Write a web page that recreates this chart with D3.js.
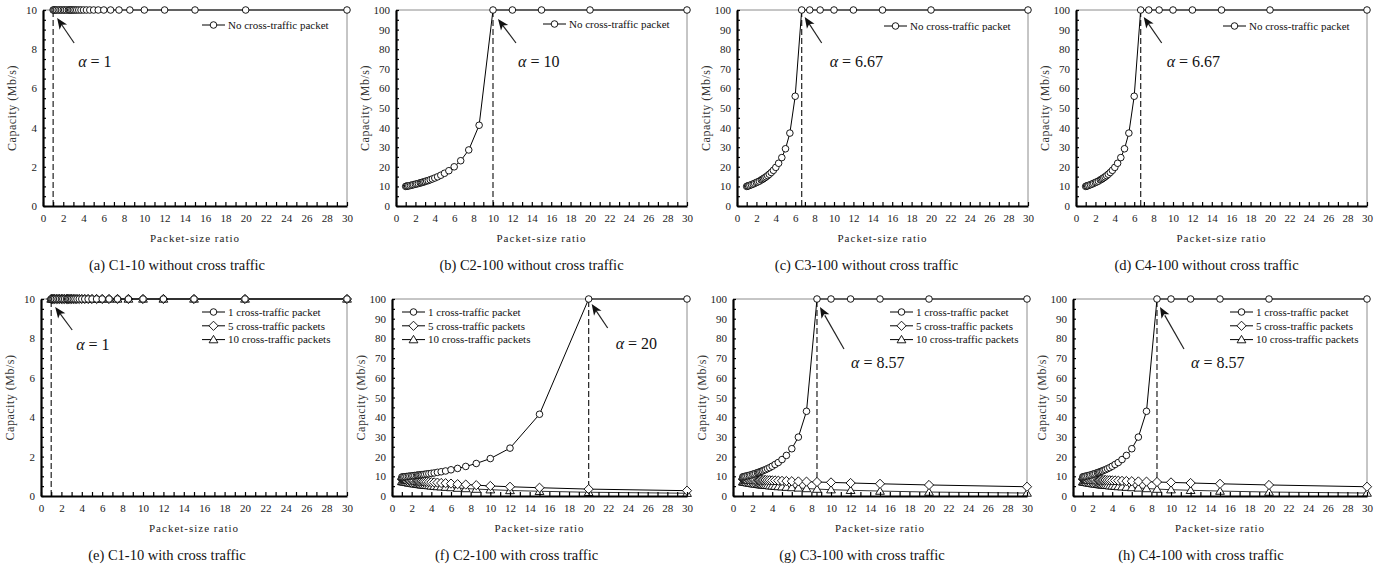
<!DOCTYPE html>
<html>
<head>
<meta charset="utf-8">
<script src="https://cdn.jsdelivr.net/npm/d3@7"></script>
<style>
  body { margin: 0; background: #fff; }
  svg { display: block; }
  text { font-family: "Liberation Serif", "Times New Roman", serif; }
</style>
</head>
<body>
<svg id="chart" width="1396" height="568"></svg>
<script>
// packet-size ratio (x) shared by every series
var ratio = [1, 1.09, 1.2, 1.33, 1.5, 1.67, 1.82, 2, 2.14, 2.31, 2.5, 2.61, 2.73, 2.86, 3, 3.16, 3.33, 3.53, 3.75,
             4, 4.29, 4.62, 5, 5.45, 6, 6.67, 7.5, 8.57, 10, 12, 15, 20, 30];

// capacity estimates (Mb/s)
var c1Capacity = [10, 10, 10, 10, 10, 10, 10, 10, 10, 10, 10, 10, 10, 10, 10, 10, 10, 10, 10,
                  10, 10, 10, 10, 10, 10, 10, 10, 10, 10, 10, 10, 10, 10];
var c2NoCross = [10.0, 10.1, 10.2, 10.3, 10.5, 10.7, 10.9, 11.1, 11.3, 11.5, 11.8, 11.9, 12.1, 12.3, 12.5, 12.8, 13.0, 13.4, 13.8,
                 14.3, 14.9, 15.7, 16.7, 18.0, 20.0, 23.1, 28.6, 41.2, 100, 100, 100, 100, 100];
var c34NoCross = [10.0, 10.2, 10.3, 10.6, 10.9, 11.2, 11.6, 12.0, 12.3, 12.7, 13.3, 13.6, 14.0, 14.4, 14.9, 15.5, 16.2, 17.1, 18.2,
                  19.7, 21.8, 24.7, 29.2, 37.2, 56.0, 100, 100, 100, 100, 100, 100, 100, 100];
var c2Cross1 = [9.6, 9.7, 9.7, 9.8, 9.9, 10.0, 10.1, 10.2, 10.3, 10.4, 10.5, 10.6, 10.6, 10.7, 10.8, 10.9, 11.0, 11.2, 11.3,
                11.5, 11.7, 12.0, 12.3, 12.7, 13.3, 14.0, 15.0, 16.5, 19.0, 24.3, 41.5, 100, 100];
var c2Cross5 = [8.6, 8.6, 8.5, 8.4, 8.3, 8.2, 8.1, 8.0, 8.0, 7.9, 7.8, 7.7, 7.6, 7.6, 7.5, 7.4, 7.3, 7.2, 7.1,
                7.0, 6.9, 6.8, 6.6, 6.5, 6.3, 6.0, 5.8, 5.5, 5.1, 4.7, 4.2, 3.5, 2.7];
var c2Cross10 = [7.4, 7.3, 7.2, 7.1, 6.9, 6.7, 6.6, 6.5, 6.3, 6.2, 6.1, 6.0, 5.9, 5.8, 5.7, 5.6, 5.5, 5.4, 5.3,
                 5.1, 5.0, 4.8, 4.7, 4.5, 4.3, 4.0, 3.8, 3.5, 3.2, 2.8, 2.4, 1.9, 1.4];
var c34Cross1 = [9.7, 9.8, 9.9, 10.1, 10.3, 10.5, 10.7, 11.0, 11.2, 11.5, 11.8, 12.0, 12.2, 12.5, 12.7, 13.1, 13.4, 13.9, 14.4,
                 15.1, 16.0, 17.0, 18.5, 20.6, 24.0, 29.9, 43.0, 100, 100, 100, 100, 100, 100];
var c34Cross5 = [8.6, 8.6, 8.6, 8.5, 8.5, 8.4, 8.4, 8.4, 8.3, 8.3, 8.3, 8.2, 8.2, 8.2, 8.1, 8.1, 8.1, 8.0, 8.0,
                 7.9, 7.9, 7.8, 7.7, 7.6, 7.5, 7.4, 7.3, 7.1, 6.9, 6.6, 6.2, 5.6, 4.7];
var c34Cross10 = [7.2, 7.1, 7.0, 6.9, 6.7, 6.6, 6.5, 6.3, 6.2, 6.1, 6.0, 5.9, 5.8, 5.7, 5.7, 5.6, 5.5, 5.4, 5.2,
                  5.1, 5.0, 4.8, 4.7, 4.5, 4.3, 4.1, 3.8, 3.5, 3.2, 2.9, 2.5, 2.0, 1.5];

// tick labels
var xTickLabels = [0, 2, 4, 6, 8, 10, 12, 14, 16, 18, 20, 22, 24, 26, 28, 30];
var yTickLabels10 = [0, 2, 4, 6, 8, 10];
var yTickLabels100 = [0, 10, 20, 30, 40, 50, 60, 70, 80, 90, 100];

var alphas = [1, 10, 6.67, 6.67, 1, 20, 8.57, 8.57];
var captions = ["(a) C1-10 without cross traffic", "(b) C2-100 without cross traffic",
                "(c) C3-100 without cross traffic", "(d) C4-100 without cross traffic",
                "(e) C1-10 with cross traffic", "(f) C2-100 with cross traffic",
                "(g) C3-100 with cross traffic", "(h) C4-100 with cross traffic"];
var noCrossName = ["No cross-traffic packet"];
var crossNames = ["1 cross-traffic packet", "5 cross-traffic packets", "10 cross-traffic packets"];

var svg = d3.select("#chart");

var shapes = {
  circle: d3.symbol(d3.symbolCircle, Math.PI * 3.3 * 3.3)(),
  diamond: "M0,-4.6L4.6,0L0,4.6L-4.6,0Z",
  triangle: "M0,-4.2L4.4,3.2L-4.4,3.2Z"
};

// layout for each panel
var panels = [
  {left: 43,   right: 347,  top: 10,  bottom: 206, ymax: 10,  series: [c1Capacity], names: noCrossName,
   leg: ["r", -119, 15], capDx: -18, tip: [4, 8], tail: [21, 33], lab: [25, 57]},
  {left: 396,  right: 687,  top: 10,  bottom: 206, ymax: 100, series: [c2NoCross], names: noCrossName,
   leg: ["r", -118, 14], capDx: -10, tip: [5, 9], tail: [23, 33], lab: [25, 57]},
  {left: 737,  right: 1028, top: 10,  bottom: 206, ymax: 100, series: [c34NoCross], names: noCrossName,
   leg: ["r", -118, 16], capDx: -16, tip: [3, 7], tail: [20, 33], lab: [28, 57]},
  {left: 1076, right: 1367, top: 10,  bottom: 206, ymax: 100, series: [c34NoCross], names: noCrossName,
   leg: ["r", -118, 16], capDx: -15, tip: [3, 7], tail: [21, 33], lab: [26, 57]},
  {left: 41,   right: 347,  top: 299, bottom: 496, ymax: 10,  series: [c1Capacity, c1Capacity, c1Capacity], names: crossNames,
   leg: ["r", -119, 13], capDx: -27, tip: [4, 8], tail: [21, 31], lab: [25, 51]},
  {left: 392,  right: 687,  top: 299, bottom: 496, ymax: 100, series: [c2Cross1, c2Cross5, c2Cross10], names: crossNames,
   leg: ["l", 36, 13], capDx: -23, tip: [3, 5], tail: [19, 29], lab: [27, 50]},
  {left: 733,  right: 1027, top: 299, bottom: 496, ymax: 100, series: [c34Cross1, c34Cross5, c34Cross10], names: crossNames,
   leg: ["r", -111, 13], capDx: -18, tip: [3, 8], tail: [27, 50], lab: [34, 69]},
  {left: 1073, right: 1367, top: 299, bottom: 496, ymax: 100, series: [c34Cross1, c34Cross5, c34Cross10], names: crossNames,
   leg: ["r", -111, 13], capDx: -19, tip: [3, 8], tail: [27, 50], lab: [34, 69]}
];
var shapeOrder = ["circle", "diamond", "triangle"];

function arrowHead(tip, tail, len, half) {
  var dx = tip[0] - tail[0], dy = tip[1] - tail[1], L = Math.hypot(dx, dy);
  var ux = dx / L, uy = dy / L;
  var bx = tip[0] - ux * len, by = tip[1] - uy * len;
  return "M" + tip[0] + "," + tip[1] +
         "L" + (bx - uy * half) + "," + (by + ux * half) +
         "L" + (tip[0] - ux * len * 0.75) + "," + (tip[1] - uy * len * 0.75) +
         "L" + (bx + uy * half) + "," + (by - ux * half) + "Z";
}

panels.forEach(function (p, pi) {
  var g = svg.append("g");
  var x = d3.scaleLinear().domain([0, 30]).range([p.left, p.right]);
  var y = d3.scaleLinear().domain([0, p.ymax]).range([p.bottom, p.top]);

  // top and right frame
  g.append("path")
    .attr("d", "M" + p.left + "," + p.top + "H" + p.right + "V" + p.bottom)
    .attr("fill", "none").attr("stroke", "#8c8c8c").attr("stroke-width", 1);

  // dashed alpha line
  var a = alphas[pi];
  g.append("line")
    .attr("x1", x(a)).attr("x2", x(a)).attr("y1", y(0)).attr("y2", y(p.ymax))
    .attr("stroke", "#222").attr("stroke-width", 1.2).attr("stroke-dasharray", "6,3");

  var line = d3.line().x(function (d) { return x(d[0]); }).y(function (d) { return y(d[1]); });

  // lines first, then markers (10, 5, 1 so circles sit on top)
  p.series.forEach(function (vals, si) {
    g.append("path")
      .datum(ratio.map(function (r, i) { return [r, vals[i]]; }))
      .attr("d", line).attr("fill", "none")
      .attr("stroke", si === 2 ? "#333" : "#000").attr("stroke-width", 1);
  });
  for (var si = p.series.length - 1; si >= 0; si--) {
    var vals = p.series[si];
    g.append("g").selectAll("path")
      .data(ratio.map(function (r, i) { return [r, vals[i]]; }))
      .join("path")
      .attr("d", shapes[shapeOrder[si]])
      .attr("transform", function (d) { return "translate(" + x(d[0]) + "," + y(d[1]) + ")"; })
      .attr("fill", "#fff").attr("stroke", "#000").attr("stroke-width", 0.9);
  }

  // axes
  var xAxis = d3.axisBottom(x).tickValues(d3.range(0, 31, 1)).tickSizeInner(-4).tickSizeOuter(0).tickPadding(8)
    .tickFormat(function (d) { return xTickLabels.indexOf(d) >= 0 ? d : ""; });
  var yLabels = p.ymax === 10 ? yTickLabels10 : yTickLabels100;
  var yAxis = d3.axisLeft(y).tickValues(d3.range(0, p.ymax + 0.001, p.ymax / 20)).tickSizeInner(-3).tickSizeOuter(0).tickPadding(6)
    .tickFormat(function (d) { return yLabels.indexOf(Math.round(d)) >= 0 && Math.abs(d - Math.round(d)) < 1e-6 ? Math.round(d) : ""; });

  var gx = g.append("g").attr("transform", "translate(0," + p.bottom + ")").call(xAxis);
  var gy = g.append("g").attr("transform", "translate(" + p.left + ",0)").call(yAxis);
  [gx, gy].forEach(function (ax) {
    ax.select(".domain").attr("stroke", "#000").attr("stroke-width", 2.2);
    ax.selectAll(".tick line").attr("stroke", "#000").attr("stroke-width", 1.2);
    ax.selectAll(".tick text").attr("fill", "#222").style("font-size", "11px")
      .style("font-family", '"Liberation Serif", serif');
  });

  // axis titles and caption
  g.append("text")
    .attr("x", (p.left + p.right) / 2).attr("y", p.bottom + 36)
    .attr("text-anchor", "middle").style("font-size", "11px").style("letter-spacing", "1px")
    .attr("fill", "#222").text("Packet-size ratio");
  g.append("text")
    .attr("transform", "translate(" + (p.left - 31) + "," + ((p.top + p.bottom) / 2) + ") rotate(-90)")
    .attr("text-anchor", "middle").attr("dy", "0.35em").style("font-size", "12px").style("letter-spacing", "0.5px")
    .attr("fill", "#333").text("Capacity (Mb/s)");
  g.append("text")
    .attr("x", (p.left + p.right) / 2 + p.capDx).attr("y", p.bottom + 64)
    .attr("text-anchor", "middle").style("font-size", "14.5px").attr("fill", "#111")
    .text(captions[pi]);

  // legend
  var tx = p.leg[0] === "r" ? p.right + p.leg[1] : p.left + p.leg[1];
  p.names.forEach(function (name, li) {
    var ly = p.top + p.leg[2] + li * 13.8;
    g.append("line").attr("x1", tx - 26).attr("x2", tx - 3).attr("y1", ly).attr("y2", ly)
      .attr("stroke", "#000").attr("stroke-width", 1);
    g.append("path").attr("d", shapes[shapeOrder[li]])
      .attr("transform", "translate(" + (tx - 14.5) + "," + ly + ")")
      .attr("fill", "#fff").attr("stroke", "#000").attr("stroke-width", 0.9);
    g.append("text").attr("x", tx).attr("y", ly).attr("dy", "0.35em")
      .style("font-size", "11px").attr("fill", "#111").text(name);
  });

  // alpha annotation
  var px = x(a), py = y(p.ymax);
  var tip = [px + p.tip[0], py + p.tip[1]];
  var tail = [px + p.tail[0], py + p.tail[1]];
  g.append("line").attr("x1", tail[0]).attr("y1", tail[1]).attr("x2", tip[0] + (tail[0] - tip[0]) * 0.2)
    .attr("y2", tip[1] + (tail[1] - tip[1]) * 0.2).attr("stroke", "#222").attr("stroke-width", 1.2);
  g.append("path").attr("d", arrowHead(tip, tail, 11, 4.5)).attr("fill", "#111");
  var lab = g.append("text").attr("x", px + p.lab[0]).attr("y", py + p.lab[1])
    .style("font-size", "16px").attr("fill", "#111");
  lab.append("tspan").style("font-style", "italic").text("α");
  lab.append("tspan").text(" = " + a);
});
</script>
</body>
</html>
